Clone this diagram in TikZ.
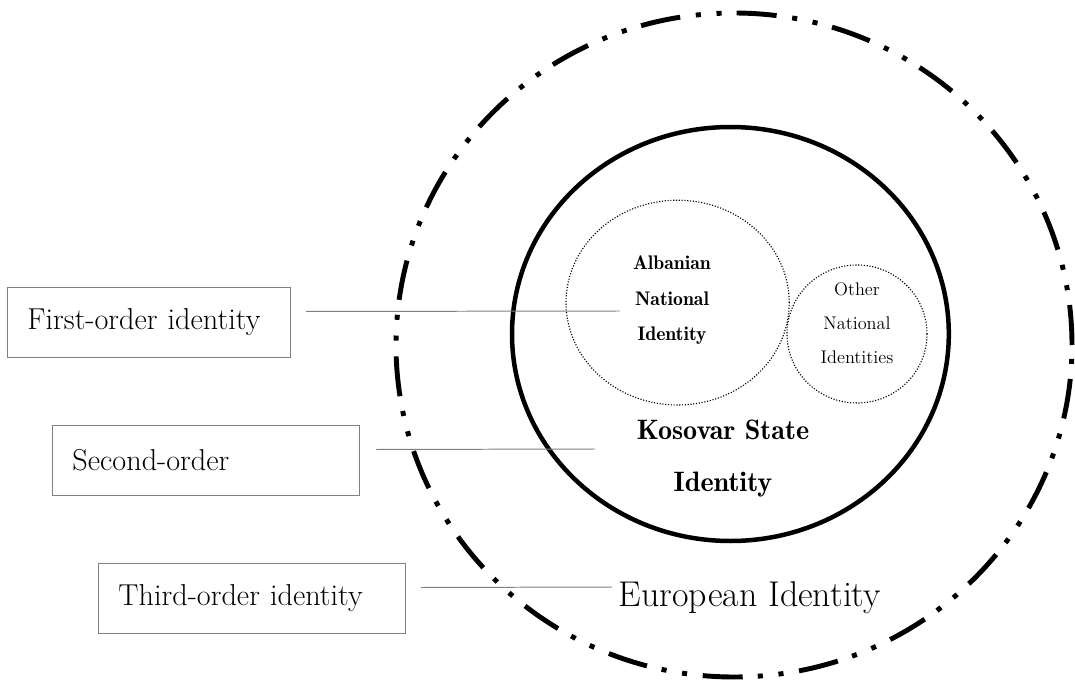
\documentclass[tikz,border=0pt]{standalone}
\usepackage{tikz}
\usetikzlibrary{positioning}

\begin{document}
\begin{tikzpicture}[
    idbox/.style={draw=gray,line width=0.7pt,minimum height=1.75cm,inner xsep=0.5cm,align=left,anchor=north west,font=\fontsize{21.5}{25}\selectfont},
    link/.style={draw=gray,line width=0.7pt},
    natring/.style={line width=0.8pt,dash pattern=on 0.8pt off 1.2pt}
  ]
  \useasboundingbox (0,0) rectangle (26.875,17.075);
  % European, Kosovar and national rings
  \draw[line width=3.5pt,dash pattern=on 28.5pt off 10.7pt on 3.6pt off 11.2pt on 3.6pt off 11.2pt] (18.35,8.45) ellipse (8.45 and 8.3);
  \draw[line width=3.2pt] (18.26,8.725) ellipse (5.46 and 5.175);
  \draw[natring] (16.94,9.51) ellipse (2.79 and 2.56);
  \draw[natring] (21.425,8.725) ellipse (1.75 and 1.725);

  \node[align=center,font=\fontsize{14}{25}\fontseries{b}\selectfont] (alb) at (16.8,9.57) {Albanian\\National\\Identity};
  \node[align=center,font=\fontsize{13}{24}\selectfont] (other) at (21.425,9.0) {Other\\National\\Identities};
  \node[align=center,font=\fontsize{20}{37}\fontseries{b}\selectfont] (kosovo) at (18.075,5.6) {Kosovar State\\Identity};
  \node[font=\fontsize{25.5}{30}\selectfont] (europe) at (18.75,2.125) {European Identity};

  % order boxes
  \node[idbox,text width=6.075cm] (first) at (0.175,9.9) {First-order identity};
  \node[idbox,text width=6.675cm] (second) at (1.3,6.45) {Second-order};
  \node[idbox,text width=6.675cm] (third) at (2.45,3.0) {Third-order identity};

  \coordinate (firstend) at (15.5,9.3);
  \coordinate (secondend) at (14.875,5.85);
  \coordinate (thirdend) at (15.3,2.4);
  \draw[link] ([shift={(0.375,0.275)}]first.east) -- (firstend);
  \draw[link] ([shift={(0.4,0.275)}]second.east) -- (secondend);
  \draw[link] ([shift={(0.375,0.275)}]third.east) -- (thirdend);
\end{tikzpicture}
\end{document}
